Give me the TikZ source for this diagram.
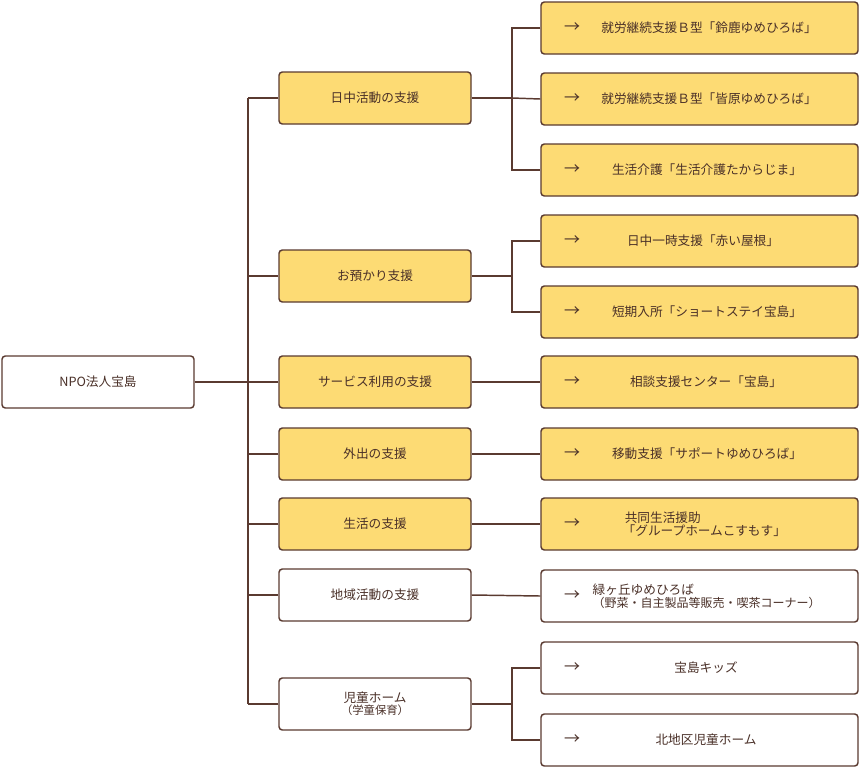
\documentclass[tikz,border=0pt]{standalone}
\usepackage{fontspec}
\setmainfont{Noto Sans CJK JP}
\begin{document}
\begin{tikzpicture}[x=0.75pt,y=-0.75pt,
  every node/.style={text=txt,font=\fontsize{9.5pt}{12pt}\selectfont},
  box/.style={draw=brd,line width=1.1pt,rounded corners=2.5pt,minimum height=39pt,inner sep=0},
  mid/.style={box,minimum width=144pt},
  rgt/.style={box,minimum width=237.75pt},
  yel/.style={fill=yel},
  wht/.style={fill=white},
  ln/.style={draw=brd,line width=1.1pt}]
\definecolor{yel}{HTML}{FDDB74}
\definecolor{brd}{HTML}{5A3A30}
\definecolor{txt}{HTML}{4A3028}
\useasboundingbox (0,0) rectangle (860,768);
\node[box,wht,minimum width=144pt] (root) at (98,382) {NPO法人宝島};
\coordinate (tt) at (248,98);
\coordinate (tb) at (248,704);
\draw[ln] (tt) -- (tb);
\draw[ln] (root.east) -- (248,382);
% middle
\node[mid,yel] (m1) at (375,98) {日中活動の支援};
\node[mid,yel] (m2) at (375,276) {お預かり支援};
\node[mid,yel] (m3) at (375,382) {サービス利用の支援};
\node[mid,yel] (m4) at (375,454) {外出の支援};
\node[mid,yel] (m5) at (375,524) {生活の支援};
\node[mid,wht] (m6) at (375,595) {地域活動の支援};
\node[mid,wht,align=center] (m7) at (375,704) {児童ホーム\\[-3pt]{\fontsize{8.5pt}{10pt}\selectfont（学童保育）}};
\foreach \m in {m1,m2,m3,m4,m5,m6,m7} \draw[ln] (\m.west) -- (\m.west -| tt);
% right
\foreach \n/\y/\s in {r1/28/yel,r2/99/yel,r3/170/yel,r4/241/yel,r5/312/yel,r6/382/yel,r7/454/yel,r8/524/yel,r9/596/wht,r10/668/wht,r11/740/wht}{
  \node[rgt,\s] (\n) at (699.5,\y) {};
  \node[font=\fontsize{12pt}{12pt}\selectfont] (a\n) at (572,\y) {→};
}
\node at (709,28) {就労継続支援Ｂ型「鈴鹿ゆめひろば」};
\node at (709,99) {就労継続支援Ｂ型「皆原ゆめひろば」};
\node at (707,170) {生活介護「生活介護たからじま」};
\node at (703,241) {日中一時支援「赤い屋根」};
\node at (707,312) {短期入所「ショートステイ宝島」};
\node at (706,382) {相談支援センター「宝島」};
\node at (707,454) {移動支援「サポートゆめひろば」};
\node[align=left,anchor=west] at (618,524) {\,共同生活援助\\[-2pt]「グループホームこすもす」};
\node[align=left,anchor=west] at (588,596) {緑ヶ丘ゆめひろば\\[-2pt]{\fontsize{9pt}{11pt}\selectfont（野菜・自主製品等販売・喫茶コーナー）}};
\node at (706,668) {宝島キッズ};
\node at (706,740) {北地区児童ホーム};
% connectors
\coordinate (b1) at (512,98);
\draw[ln] (m1.east) -- (b1);
\draw[ln] (r1.west) -| (b1) |- (r3.west);
\draw[ln] (b1) -- (r2.west);
\coordinate (b2) at (512,276);
\draw[ln] (m2.east) -- (b2);
\draw[ln] (r4.west) -| (b2) |- (r5.west);
\draw[ln] (m3.east) -- (r6.west);
\draw[ln] (m4.east) -- (r7.west);
\draw[ln] (m5.east) -- (r8.west);
\draw[ln] (m6.east) -- (r9.west);
\coordinate (b3) at (512,704);
\draw[ln] (m7.east) -- (b3);
\draw[ln] (r10.west) -| (b3) |- (r11.west);
\end{tikzpicture}
\end{document}
